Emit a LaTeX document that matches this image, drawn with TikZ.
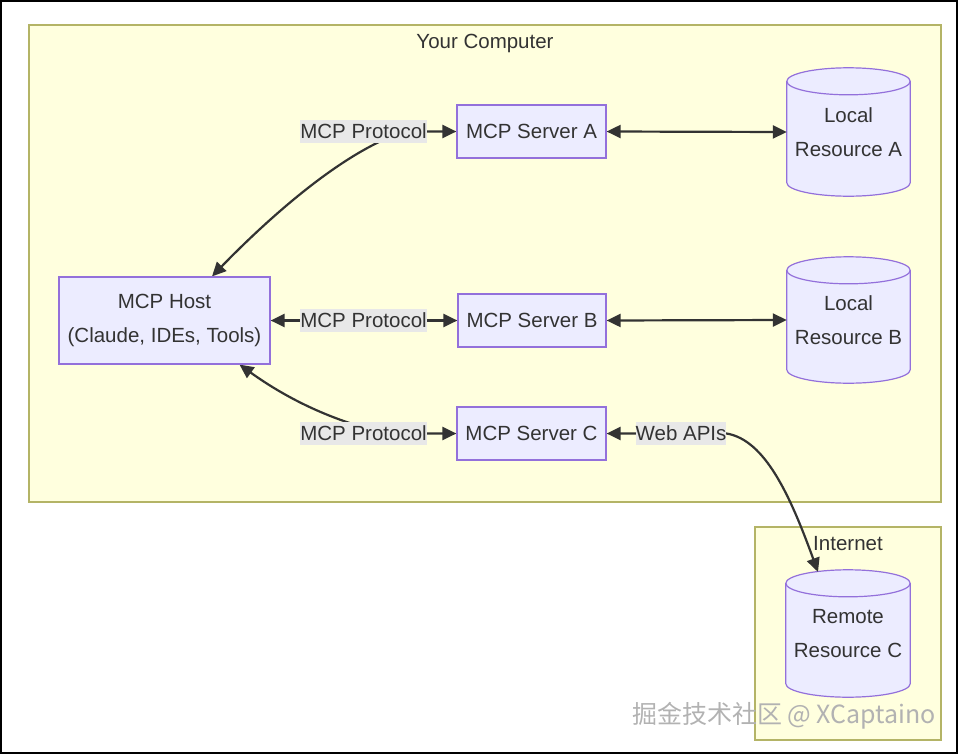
\documentclass[tikz,border=0pt]{standalone}
\usepackage{fontspec}
\setmainfont{Liberation Sans}
\newfontfamily\cjkfont{Noto Sans CJK SC}
\usetikzlibrary{arrows.meta,calc,backgrounds}
\pgfdeclarelayer{edges}
\pgfsetlayers{background,edges,main}
\definecolor{nodefill}{HTML}{ECECFF}
\definecolor{nodeline}{HTML}{9370DB}
\definecolor{clusterfill}{HTML}{FFFFDE}
\definecolor{clusterline}{HTML}{B4B466}
\definecolor{edgecol}{HTML}{333333}
\definecolor{lblfill}{HTML}{E8E8E8}
\definecolor{txtcol}{HTML}{333333}
\tikzset{
  every node/.style={font=\fontsize{20.5}{34.5}\selectfont, text=txtcol},
  boxnode/.style={draw=nodeline, fill=nodefill, line width=1.2pt, align=center, inner sep=0pt},
  cylnode/.style={draw=none, align=center, inner sep=0pt},
  lbl/.style={fill=lblfill, inner sep=0pt, minimum height=23pt},
  cluster/.style={draw=clusterline, fill=clusterfill, line width=1.2pt},
  ctitle/.style={inner sep=0pt},
  arr/.style={draw=edgecol, line width=2.2pt, {Triangle[length=14pt,width=13pt]}-{Triangle[length=14pt,width=13pt]}},
  cyl/.style={draw=nodeline, fill=nodefill, line width=1.2pt},
}
\newcommand\drawcyl[1]{%
  \path let \p1=(#1.north west), \p2=(#1.south east), \n1={(\x2-\x1)/2} in
    [cyl] (\x1,\y1-13.5pt) -- (\x1,\y2+13.5pt) arc[start angle=180,end angle=360,x radius=\n1,y radius=13.5pt]
    -- (\x2,\y1-13.5pt) arc[start angle=0,end angle=180,x radius=\n1,y radius=13.5pt] -- cycle;%
  \path let \p1=(#1.north west), \p2=(#1.south east), \n1={(\x2-\x1)/2} in
    [cyl, fill=none] (\x1,\y1-13.5pt) arc[start angle=180,end angle=360,x radius=\n1,y radius=13.5pt];%
}
\begin{document}
\begin{tikzpicture}[x=1pt,y=-1pt]
\useasboundingbox (0,0) rectangle (959,755);
\draw[black, line width=2pt] (1,1) rectangle (957,753);

% clusters
\begin{pgfonlayer}{background}
\draw[cluster] (29,25) rectangle (941,502);
\draw[cluster] (755,527) rectangle (941,740);
\end{pgfonlayer}
\node[ctitle] (tcomp) at (485,43) {Your Computer};
\node[ctitle] (tnet) at (848,544) {Internet};

% nodes
\node[boxnode, minimum width=211pt, minimum height=87pt] (host) at (164.5,320.5) {MCP Host\\(Claude, IDEs, Tools)};
\node[boxnode, minimum width=149pt, minimum height=53pt] (sA) at (531.5,131.5) {MCP Server A};
\node[boxnode, minimum width=148pt, minimum height=53pt] (sB) at (532,320.5) {MCP Server B};
\node[boxnode, minimum width=149pt, minimum height=53pt] (sC) at (531.5,433.5) {MCP Server C};

\node[cylnode, minimum width=123pt, minimum height=128pt] (rA) at (848.5,132) {Local\\Resource A};
\node[cylnode, minimum width=123pt, minimum height=126pt] (rB) at (848.5,320) {Local\\Resource B};
\node[cylnode, minimum width=124pt, minimum height=127pt] (rC) at (848,633.5) {Remote\\Resource C};
\begin{pgfonlayer}{background}
\drawcyl{rA}
\drawcyl{rB}
\drawcyl{rC}
\end{pgfonlayer}

% edge labels
\node[lbl] (lA) at (363.5,131.5) {MCP Protocol};
\node[lbl] (lB) at (363.5,320.5) {MCP Protocol};
\node[lbl] (lC) at (363.5,433.5) {MCP Protocol};
\node[lbl] (lW) at (681,433.5) {Web APIs};

% edges
\begin{pgfonlayer}{edges}
\draw[arr] ([xshift=47.5pt]host.north) .. controls (255,232) and (330,160) .. (395,135) -- (lA.east) -- (sA.west);
\draw[arr] (host.east) -- (sB.west);
\draw[arr] ([xshift=75pt]host.south) .. controls (275,390) and (320,418) .. (385,433) -- (lC.east) -- (sC.west);
\draw[arr] (sC.east) -- (lW.center) -- (lW.east) .. controls (765,440) and (790,495) .. (818,572);
\draw[arr] (sA.east) -- (rA.west);
\draw[arr] (sB.east) -- (rB.west);
\end{pgfonlayer}

% watermark
\node[inner sep=0pt, text=black!30, font=\cjkfont\fontsize{25}{25}\selectfont] (wm) at (784,716) {掘金技术社区 @ XCaptaino};
\end{tikzpicture}
\end{document}
